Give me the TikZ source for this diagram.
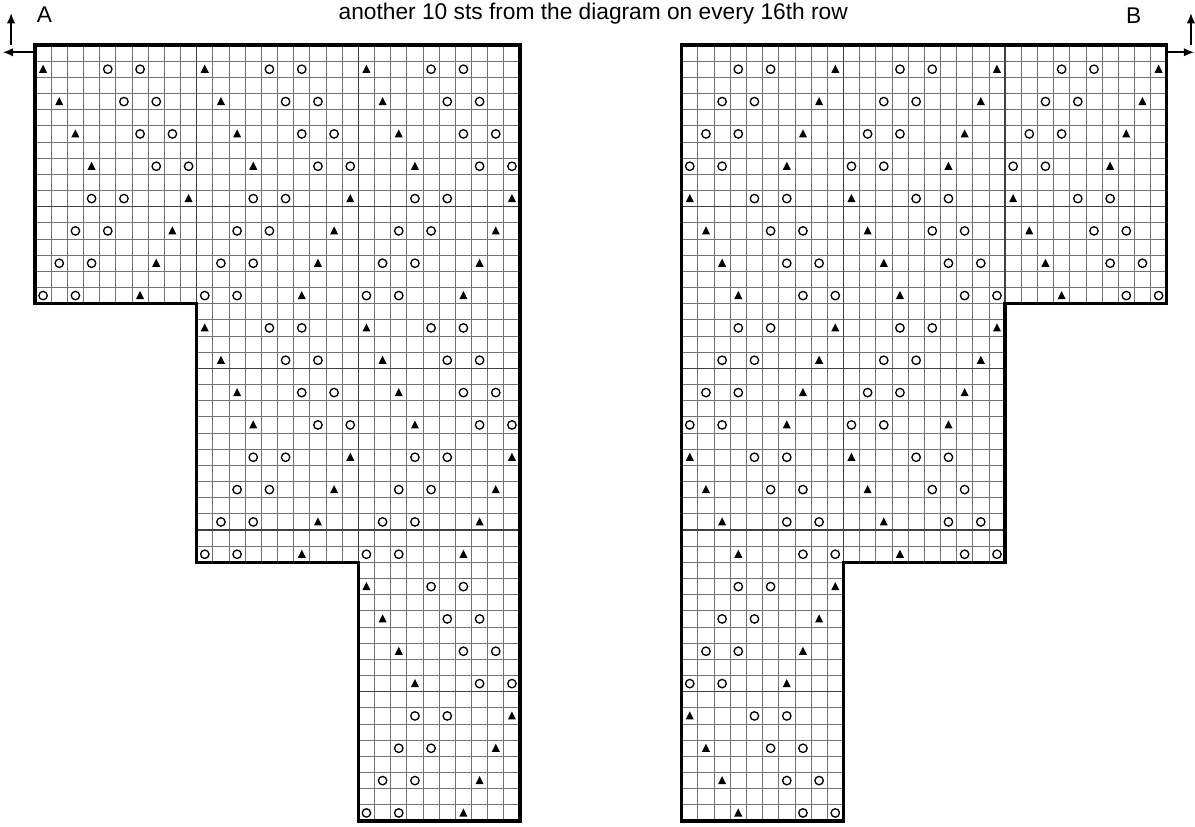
\documentclass[tikz,border=0pt]{standalone}
\usepackage{fontspec}
\setmainfont{Liberation Sans}
\usetikzlibrary{arrows.meta}

\tikzset{
  tri/.pic={\fill (-0.25,-0.22) -- (0.25,-0.22) -- (0,0.28) -- cycle;},
  ring/.pic={\draw[line width=1.15pt] (0,0) circle (0.26);}
}

\begin{document}
\begin{tikzpicture}[
  x=0.5cm, y=0.5cm,
  thin_grid/.style={draw=black!55, line width=0.65pt, step=1},
  block_grid/.style={draw=black!75, line width=1.1pt, step=10},
  outline/.style={line width=2.8pt, draw=black, line join=miter},
  dir_arrow/.style={line width=1.5pt, -{Latex[length=3.2mm,width=2.6mm]}},
  lbl/.style={font=\fontsize{20}{22}\selectfont, inner sep=0pt}
]
  \useasboundingbox (-2.165,2.783) rectangle (71.75,-48.31);

  % --- CHART A (left) ---
  \draw[thin_grid] (0,-16) grid (30,0);
  \draw[thin_grid] (10,-32) grid (30,-16);
  \draw[thin_grid] (20,-48) grid (30,-32);
  \draw[block_grid] (0,-16) grid (30,0);
  \draw[block_grid] (10,-32) grid (30,-16);
  \draw[block_grid] (20,-48) grid (30,-32);

  % --- CHART B (right, mirrored) ---
  \draw[thin_grid] (40,-16) grid (70,0);
  \draw[thin_grid] (40,-32) grid (60,-16);
  \draw[thin_grid] (40,-48) grid (50,-32);
  \draw[block_grid] (40,-16) grid (70,0);
  \draw[block_grid] (40,-32) grid (60,-16);
  \draw[block_grid] (40,-48) grid (50,-32);

  % Simbolos: fila impar, desfase \a dentro de cada bloque de 10
  \foreach \k/\a in {0/0,1/1,2/2,3/3,4/9,5/8,6/7,7/6} {
    \foreach \p in {0,1,2} {
      \foreach \b in {\p,...,2} {
        \pgfmathsetmacro\y{-(2*(\k+8*\p)+1)-0.5}
        \pgfmathsetmacro\xt{10*\b+\a+0.5}
        \pgfmathsetmacro\xo{10*\b+mod(\a+4,10)+0.5}
        \pgfmathsetmacro\xoo{10*\b+mod(\a+6,10)+0.5}
        \pic at (\xt,\y) {tri};
        \pic at (\xo,\y) {ring};
        \pic at (\xoo,\y) {ring};
        \pic at (70-\xt,\y) {tri};
        \pic at (70-\xo,\y) {ring};
        \pic at (70-\xoo,\y) {ring};
      }
    }
  }

  % Contornos
  \draw[outline] (0,0) -- (30,0) -- (30,-48) -- (20,-48) -- (20,-32)
    -- (10,-32) -- (10,-16) -- (0,-16) -- cycle;
  \draw[outline] (40,0) -- (70,0) -- (70,-16) -- (60,-16) -- (60,-32)
    -- (50,-32) -- (50,-48) -- (40,-48) -- cycle;

  % Flechas de direccion
  \coordinate (a_side) at (0,-0.45);
  \coordinate (a_side_end) at (-2.0,-0.45);
  \coordinate (a_up) at (-1.48,0);
  \coordinate (a_up_end) at (-1.48,1.98);
  \coordinate (b_side) at (70,-0.45);
  \coordinate (b_side_end) at (71.7,-0.45);
  \coordinate (b_up) at (71.5,0);
  \coordinate (b_up_end) at (71.5,1.98);
  \draw[dir_arrow] (a_side) -- (a_side_end);
  \draw[dir_arrow] (a_up) -- (a_up_end);
  \draw[dir_arrow] (b_side) -- (b_side_end);
  \draw[dir_arrow] (b_up) -- (b_up_end);

  % Etiquetas
  \node[lbl, anchor=base west] (lab_a) at (0.1,1.38) {A};
  \node[lbl, anchor=base west] (lab_b) at (67.48,1.30) {B};
  \node[lbl, anchor=base east] (title) at (50.29,1.59)
    {another 10 sts from the diagram on every 16th row};
\end{tikzpicture}
\end{document}
